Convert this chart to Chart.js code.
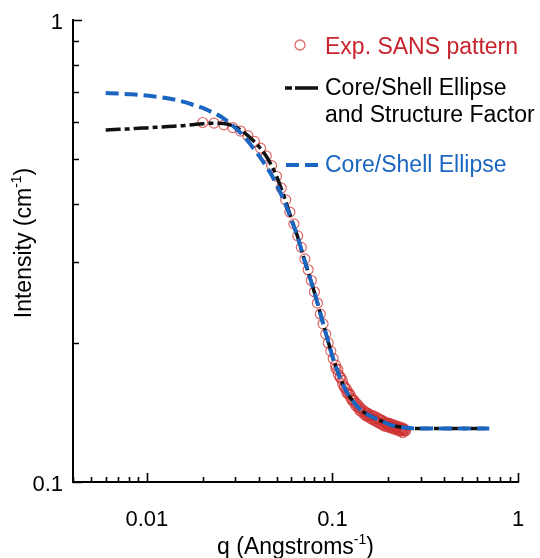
<!DOCTYPE html>
<html>
<head>
<meta charset="utf-8">
<script src="https://cdn.jsdelivr.net/npm/chart.js@4.4.1/dist/chart.umd.min.js"></script>
<style>
  html, body { margin: 0; padding: 0; background: #fff; }
  #wrap { width: 540px; height: 558px; }
</style>
</head>
<body>
<div id="wrap"><canvas id="sansChart" width="540" height="558"></canvas></div>
<script>
// measured SANS pattern, q in 1/Angstrom, intensity in 1/cm
const expQ = [
  0.020, 0.023, 0.026, 0.029, 0.032, 0.035, 0.038, 0.041, 0.044, 0.047,
  0.050, 0.053, 0.056, 0.059, 0.062, 0.065, 0.068, 0.071, 0.074, 0.077,
  0.080, 0.083, 0.086, 0.089, 0.092, 0.095, 0.098, 0.101, 0.104, 0.107,
  0.110, 0.113, 0.116, 0.119, 0.122, 0.125, 0.128, 0.131, 0.134, 0.137,
  0.140, 0.143, 0.146, 0.149, 0.152, 0.155, 0.158, 0.161, 0.164, 0.167,
  0.170, 0.173, 0.176, 0.179, 0.182, 0.185, 0.188, 0.191, 0.194, 0.197,
  0.200, 0.203, 0.206, 0.209, 0.212, 0.215, 0.218, 0.221, 0.224, 0.227,
  0.230, 0.233, 0.236, 0.239, 0.242, 0.245, 0.248
];
const expI = [
  0.600, 0.598, 0.593, 0.585, 0.575, 0.562, 0.546, 0.528, 0.508, 0.484,
  0.459, 0.433, 0.408, 0.384, 0.362, 0.341, 0.322, 0.304, 0.288, 0.273,
  0.258, 0.244, 0.231, 0.220, 0.209, 0.200, 0.192, 0.185, 0.179, 0.175,
  0.169, 0.166, 0.161, 0.159, 0.155, 0.154, 0.150, 0.150, 0.146, 0.147,
  0.143, 0.144, 0.141, 0.142, 0.139, 0.141, 0.138, 0.139, 0.137, 0.139,
  0.136, 0.138, 0.135, 0.137, 0.134, 0.136, 0.133, 0.135, 0.133, 0.134,
  0.132, 0.134, 0.132, 0.133, 0.131, 0.133, 0.131, 0.132, 0.130, 0.132,
  0.130, 0.131, 0.129, 0.131, 0.130, 0.130, 0.129
];
// second detector setting, overlapping the high-q end
const expQ2 = [
  0.1045, 0.1075, 0.1105, 0.1135, 0.1165, 0.1195, 0.1225, 0.1255, 0.1285, 0.1315,
  0.1345, 0.1375, 0.1405, 0.1435, 0.1465, 0.1495, 0.1525, 0.1555, 0.1585, 0.1615,
  0.1645, 0.1675, 0.1705, 0.1735, 0.1765, 0.1795, 0.1825, 0.1855, 0.1885, 0.1915,
  0.1945, 0.1975, 0.2005, 0.2035, 0.2065, 0.2095, 0.2125, 0.2155, 0.2185, 0.2215,
  0.2245, 0.2275, 0.2305, 0.2335, 0.2365, 0.2395, 0.2425, 0.2455
];
const expI2 = [
  0.176, 0.171, 0.168, 0.163, 0.160, 0.156, 0.156, 0.152, 0.151, 0.148,
  0.148, 0.145, 0.145, 0.142, 0.143, 0.140, 0.141, 0.139, 0.140, 0.137,
  0.139, 0.136, 0.137, 0.135, 0.137, 0.134, 0.136, 0.133, 0.135, 0.132,
  0.134, 0.132, 0.134, 0.131, 0.133, 0.131, 0.132, 0.130, 0.132, 0.130,
  0.131, 0.129, 0.131, 0.129, 0.130, 0.128, 0.130, 0.129
];

// core/shell ellipse model with structure factor
const fitSfQ = [
  0.006, 0.007, 0.008, 0.009, 0.010, 0.012, 0.014, 0.016, 0.018, 0.020,
  0.022, 0.024, 0.026, 0.028, 0.030, 0.032, 0.035, 0.038, 0.041, 0.044,
  0.047, 0.050, 0.055, 0.060, 0.065, 0.070, 0.075, 0.080, 0.085, 0.090,
  0.095, 0.100, 0.110, 0.120, 0.130, 0.140, 0.150, 0.160, 0.180, 0.200,
  0.220, 0.250, 0.300, 0.350, 0.400, 0.500, 0.600, 0.700
];
const fitSfI = [
  0.578, 0.580, 0.581, 0.583, 0.584, 0.587, 0.589, 0.591, 0.594, 0.596,
  0.598, 0.598, 0.597, 0.593, 0.587, 0.578, 0.562, 0.545, 0.527, 0.507,
  0.484, 0.459, 0.414, 0.372, 0.339, 0.306, 0.280, 0.257, 0.236, 0.217,
  0.201, 0.187, 0.168, 0.156, 0.149, 0.144, 0.141, 0.139, 0.136, 0.1335,
  0.132, 0.131, 0.1305, 0.1305, 0.1305, 0.1305, 0.1305, 0.1305
];

// core/shell ellipse model alone
const fitQ = [
  0.006, 0.007, 0.008, 0.009, 0.010, 0.012, 0.014, 0.016, 0.018, 0.020,
  0.022, 0.024, 0.026, 0.028, 0.030, 0.032, 0.035, 0.038, 0.041, 0.044,
  0.047, 0.050, 0.055, 0.060, 0.065, 0.070, 0.075, 0.080, 0.085, 0.090,
  0.095, 0.100, 0.110, 0.120, 0.130, 0.140, 0.150, 0.160, 0.180, 0.200,
  0.220, 0.250, 0.300, 0.350, 0.400, 0.500, 0.600, 0.700
];
const fitI = [
  0.695, 0.693, 0.691, 0.689, 0.686, 0.680, 0.673, 0.664, 0.654, 0.645,
  0.634, 0.624, 0.612, 0.598, 0.584, 0.570, 0.547, 0.524, 0.503, 0.482,
  0.462, 0.440, 0.405, 0.370, 0.339, 0.306, 0.280, 0.257, 0.236, 0.217,
  0.201, 0.187, 0.168, 0.156, 0.149, 0.144, 0.141, 0.139, 0.136, 0.1335,
  0.132, 0.131, 0.1305, 0.1305, 0.1305, 0.1305, 0.1305, 0.1305
];

const xLabels = [0.01, 0.1, 1];
const yLabels = [0.1, 1];
const seriesNames = ['Exp. SANS pattern', 'Core/Shell Ellipse', 'and Structure Factor', 'Core/Shell Ellipse'];

const FONT = '"Liberation Sans", Arial, Helvetica, sans-serif';
const RED = '#c8232c';
const CIRCLE = 'rgba(206, 48, 48, 0.72)';
const BLUE = '#1a66c0';

const toPoints = (qs, is) => qs.map((q, i) => ({ x: q, y: is[i] }));

// every 1..9 multiple inside the axis range, used for the tick marks
function logTicks(min, max) {
  const out = [];
  for (let e = Math.floor(Math.log10(min)); e <= Math.ceil(Math.log10(max)); e++) {
    for (let m = 1; m <= 9; m++) {
      const v = +(m * Math.pow(10, e)).toPrecision(3);
      if (v >= min * 0.9999 && v <= max * 1.0001) out.push({ v, major: m === 1 });
    }
  }
  return out;
}

function drawSup(ctx, parts, x, y, size, align) {
  const sup = Math.round(size * 0.62);
  let total = 0;
  parts.forEach(([t, s]) => {
    ctx.font = (s ? sup : size) + 'px ' + FONT;
    total += ctx.measureText(t).width;
  });
  let cx = align === 'center' ? x - total / 2 : x;
  ctx.textAlign = 'left';
  ctx.textBaseline = 'alphabetic';
  parts.forEach(([t, s]) => {
    ctx.font = (s ? sup : size) + 'px ' + FONT;
    ctx.fillText(t, cx, s ? y - size * 0.42 : y);
    cx += ctx.measureText(t).width;
  });
}

const decorations = {
  id: 'decorations',
  afterDraw(chart) {
    const ctx = chart.ctx;
    const xs = chart.scales.x, ys = chart.scales.y;
    const a = chart.chartArea;
    ctx.save();

    // inward tick marks
    ctx.strokeStyle = '#000';
    ctx.lineWidth = 1.6;
    ctx.beginPath();
    logTicks(xs.min, xs.max).forEach(t => {
      const px = Math.round(xs.getPixelForValue(t.v)) + 0.5;
      ctx.moveTo(px, a.bottom);
      ctx.lineTo(px, a.bottom - (t.major ? 9 : 5));
    });
    logTicks(ys.min, ys.max).forEach(t => {
      const py = Math.round(ys.getPixelForValue(t.v)) + 0.5;
      ctx.moveTo(a.left, py);
      ctx.lineTo(a.left + (t.major ? 9 : 6), py);
    });
    ctx.stroke();

    // tick labels
    ctx.fillStyle = '#000';
    ctx.font = '22px ' + FONT;
    ctx.textAlign = 'center';
    ctx.textBaseline = 'middle';
    xLabels.forEach(v => ctx.fillText(String(v), xs.getPixelForValue(v), a.bottom + 38));
    ctx.textAlign = 'right';
    yLabels.forEach(v => ctx.fillText(String(v), a.left - 10, ys.getPixelForValue(v) + 3));

    // axis titles
    drawSup(ctx, [['q (Angstroms', false], ['-1', true], [')', false]],
      (a.left + a.right) / 2, 554, 23, 'center');
    ctx.save();
    ctx.translate(31, (a.top + a.bottom) / 2 - 8);
    ctx.rotate(-Math.PI / 2);
    drawSup(ctx, [['Intensity (cm', false], ['-1', true], [')', false]], 0, 0, 23, 'center');
    ctx.restore();

    // legend
    const lx = 325;
    ctx.font = '23px ' + FONT;
    ctx.textAlign = 'left';
    ctx.textBaseline = 'middle';

    ctx.strokeStyle = CIRCLE;
    ctx.lineWidth = 1.3;
    ctx.beginPath();
    ctx.arc(300, 45, 5, 0, Math.PI * 2);
    ctx.stroke();
    ctx.fillStyle = RED;
    ctx.fillText(seriesNames[0], lx, 48);

    ctx.strokeStyle = '#111';
    ctx.lineWidth = 3.5;
    ctx.setLineDash([7, 3, 20, 0]);
    ctx.beginPath();
    ctx.moveTo(285, 88);
    ctx.lineTo(318, 88);
    ctx.stroke();
    ctx.fillStyle = '#000';
    ctx.fillText(seriesNames[1], lx, 89);
    ctx.fillText(seriesNames[2], lx, 116);

    ctx.strokeStyle = BLUE;
    ctx.lineWidth = 4;
    ctx.setLineDash([13, 6]);
    ctx.beginPath();
    ctx.moveTo(286, 165);
    ctx.lineTo(318, 165);
    ctx.stroke();
    ctx.setLineDash([]);
    ctx.fillStyle = BLUE;
    ctx.fillText(seriesNames[3], lx, 166);

    ctx.restore();
  }
};

const circleStyle = {
  showLine: false,
  pointStyle: 'circle',
  pointRadius: 5,
  pointBackgroundColor: 'rgba(0,0,0,0)',
  pointBorderColor: CIRCLE,
  pointBorderWidth: 1.2,
  order: 2
};

new Chart(document.getElementById('sansChart'), {
  type: 'scatter',
  data: {
    datasets: [
      Object.assign({ label: seriesNames[0], data: toPoints(expQ, expI) }, circleStyle),
      Object.assign({ label: seriesNames[0], data: toPoints(expQ2, expI2) }, circleStyle),
      {
        label: seriesNames[1] + ' ' + seriesNames[2],
        data: toPoints(fitSfQ, fitSfI),
        showLine: true,
        pointRadius: 0,
        borderColor: '#111',
        borderWidth: 3.5,
        borderDash: [15, 4, 5, 4],
        cubicInterpolationMode: 'monotone',
        order: 1
      },
      {
        label: seriesNames[3],
        data: toPoints(fitQ, fitI),
        showLine: true,
        pointRadius: 0,
        borderColor: BLUE,
        borderWidth: 4,
        borderDash: [13, 6],
        cubicInterpolationMode: 'monotone',
        order: 0
      }
    ]
  },
  options: {
    responsive: false,
    animation: false,
    layout: { padding: { left: 73, right: 22, top: 20, bottom: 76 } },
    plugins: { legend: { display: false }, tooltip: { enabled: false } },
    scales: {
      x: {
        type: 'logarithmic',
        min: 0.004,
        max: 1,
        grid: { display: false, drawTicks: false },
        border: { display: true, color: '#000', width: 2 },
        ticks: { display: false }
      },
      y: {
        type: 'logarithmic',
        min: 0.1,
        max: 1,
        grid: { display: false, drawTicks: false },
        border: { display: true, color: '#000', width: 2 },
        ticks: { display: false }
      }
    }
  },
  plugins: [decorations]
});
</script>
</body>
</html>
